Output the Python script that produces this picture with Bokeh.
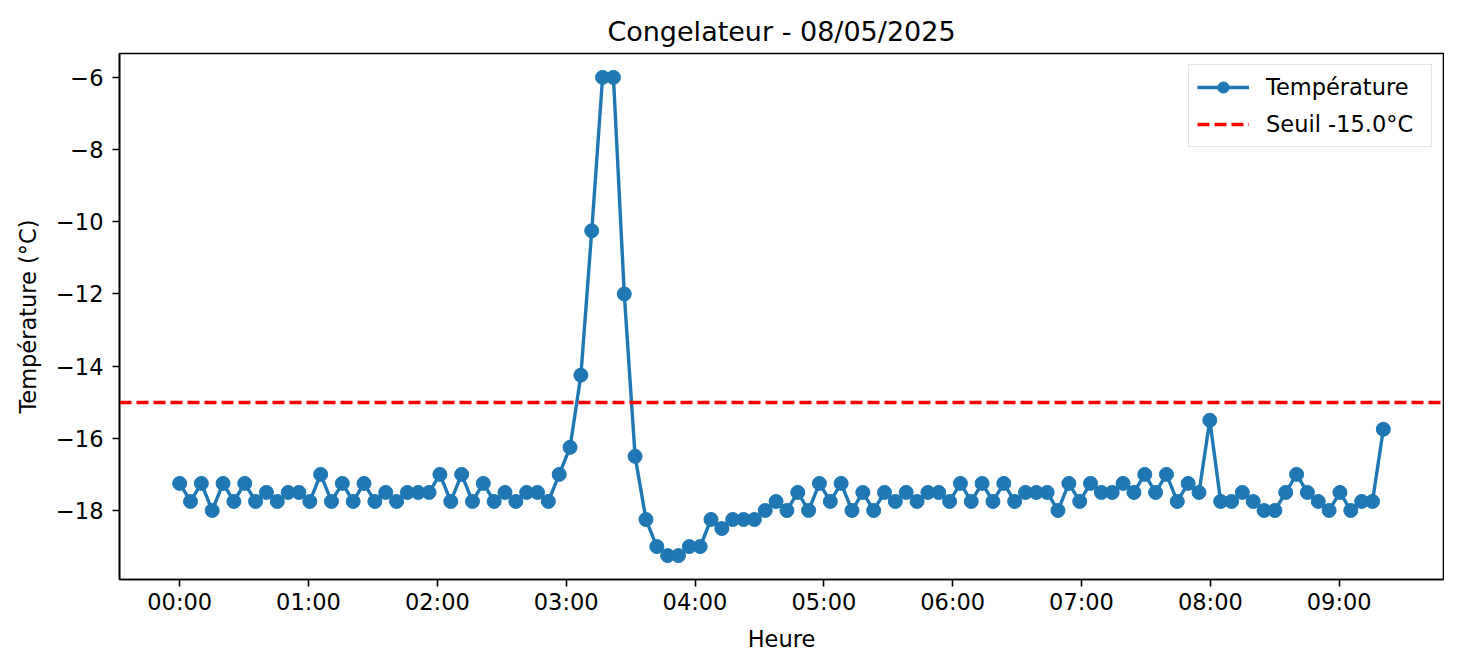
import pandas as pd
from bokeh.plotting import figure
from bokeh.models import (ColumnDataSource, Range1d, FixedTicker, DatetimeTickFormatter,
                          CustomJSTickFormatter, Legend, LegendItem)
from bokeh.embed import file_html
from bokeh.resources import INLINE

# ---------------- data ----------------
titre = "Congelateur - 08/05/2025"
date = "2025-05-08"

heures = [
    "00:00:00", "00:05:03", "00:10:06", "00:15:09", "00:20:12", "00:25:15", "00:30:18", "00:35:21",
    "00:40:24", "00:45:27", "00:50:30", "00:55:33", "01:00:36", "01:05:39", "01:10:42", "01:15:45",
    "01:20:48", "01:25:51", "01:30:54", "01:35:57", "01:41:00", "01:46:03", "01:51:06", "01:56:09",
    "02:01:12", "02:06:15", "02:11:18", "02:16:21", "02:21:24", "02:26:27", "02:31:30", "02:36:33",
    "02:41:36", "02:46:39", "02:51:42", "02:56:45", "03:01:48", "03:06:51", "03:11:54", "03:16:57",
    "03:22:00", "03:27:03", "03:32:06", "03:37:09", "03:42:12", "03:47:15", "03:52:18", "03:57:21",
    "04:02:24", "04:07:27", "04:12:30", "04:17:33", "04:22:36", "04:27:39", "04:32:42", "04:37:45",
    "04:42:48", "04:47:51", "04:52:54", "04:57:57", "05:03:00", "05:08:03", "05:13:06", "05:18:09",
    "05:23:12", "05:28:15", "05:33:18", "05:38:21", "05:43:24", "05:48:27", "05:53:30", "05:58:33",
    "06:03:36", "06:08:39", "06:13:42", "06:18:45", "06:23:48", "06:28:51", "06:33:54", "06:38:57",
    "06:44:00", "06:49:03", "06:54:06", "06:59:09", "07:04:12", "07:09:15", "07:14:18", "07:19:21",
    "07:24:24", "07:29:27", "07:34:30", "07:39:33", "07:44:36", "07:49:39", "07:54:42", "07:59:45",
    "08:04:48", "08:09:51", "08:14:54", "08:19:57", "08:25:00", "08:30:03", "08:35:06", "08:40:09",
    "08:45:12", "08:50:15", "08:55:18", "09:00:21", "09:05:24", "09:10:27", "09:15:30", "09:20:33",
]

temperatures = [
    -17.25, -17.75, -17.25, -18.0, -17.25, -17.75, -17.25, -17.75,
    -17.5, -17.75, -17.5, -17.5, -17.75, -17.0, -17.75, -17.25,
    -17.75, -17.25, -17.75, -17.5, -17.75, -17.5, -17.5, -17.5,
    -17.0, -17.75, -17.0, -17.75, -17.25, -17.75, -17.5, -17.75,
    -17.5, -17.5, -17.75, -17.0, -16.25, -14.25, -10.25, -6.0,
    -6.0, -12.0, -16.5, -18.25, -19.0, -19.25, -19.25, -19.0,
    -19.0, -18.25, -18.5, -18.25, -18.25, -18.25, -18.0, -17.75,
    -18.0, -17.5, -18.0, -17.25, -17.75, -17.25, -18.0, -17.5,
    -18.0, -17.5, -17.75, -17.5, -17.75, -17.5, -17.5, -17.75,
    -17.25, -17.75, -17.25, -17.75, -17.25, -17.75, -17.5, -17.5,
    -17.5, -18.0, -17.25, -17.75, -17.25, -17.5, -17.5, -17.25,
    -17.5, -17.0, -17.5, -17.0, -17.75, -17.25, -17.5, -15.5,
    -17.75, -17.75, -17.5, -17.75, -18.0, -18.0, -17.5, -17.0,
    -17.5, -17.75, -18.0, -17.5, -18.0, -17.75, -17.75, -15.75,
]

seuil = -15.0
x_tick_labels = ["00:00", "01:00", "02:00", "03:00", "04:00",
                 "05:00", "06:00", "07:00", "08:00", "09:00"]
y_ticks = [-18, -16, -14, -12, -10, -8, -6]

# ---------------- build ----------------
t = pd.to_datetime([f"{date} {h}" for h in heures])
src = ColumnDataSource(dict(t=t, temp=temperatures))

span_t = t[-1] - t[0]
x_start = t[0] - 0.05 * span_t
x_end = t[-1] + 0.05 * span_t
y_lo, y_hi = min(temperatures), max(temperatures)
y_pad = 0.05 * (y_hi - y_lo)

FONT = "DejaVu Sans"
BLUE = "#1f77b4"

p = figure(width=1444, height=655, output_backend="svg", toolbar_location=None,
           x_axis_type="datetime",
           x_range=Range1d(x_start, x_end), y_range=Range1d(y_lo - y_pad, y_hi + y_pad),
           min_border_left=119, min_border_right=1, min_border_top=53, min_border_bottom=76)

p.title.text = titre
p.title.align = "center"
p.title.text_font = FONT
p.title.text_font_size = "27px"
p.title.text_font_style = "normal"
p.title.text_color = "black"
p.title.standoff = 13

p.grid.visible = False
p.outline_line_color = "black"
p.outline_line_width = 1.6
p.outline_line_alpha = 1.0

line_r = p.line("t", "temp", source=src, line_color=BLUE, line_width=3.4)
scat_r = p.scatter("t", "temp", source=src, size=14, fill_color=BLUE, line_color=BLUE)
seuil_r = p.hspan(y=[seuil], line_color="red", line_width=3.4, line_dash="12 5")

tick_ms = [pd.Timestamp(f"{date} {lab}").value / 1e6 for lab in x_tick_labels]
p.xaxis.ticker = FixedTicker(ticks=tick_ms)
fmt = "%H:%M"
p.xaxis.formatter = DatetimeTickFormatter(seconds=fmt, minsec=fmt, minutes=fmt, hourmin=fmt,
                                          hours=fmt, days=fmt, months=fmt, years=fmt)
p.yaxis.ticker = FixedTicker(ticks=y_ticks)
p.yaxis.formatter = CustomJSTickFormatter(code="return tick < 0 ? '\u2212' + Math.abs(tick) : '' + tick;")

for ax in (p.xaxis[0], p.yaxis[0]):
    ax.axis_line_color = "black"
    ax.axis_line_width = 1.6
    ax.major_tick_line_color = "black"
    ax.major_tick_line_width = 1.6
    ax.major_tick_out = 7
    ax.major_tick_in = 0
    ax.minor_tick_out = 0
    ax.minor_tick_in = 0
    ax.major_label_text_font = FONT
    ax.major_label_text_font_size = "22.5px"
    ax.major_label_text_color = "black"
    ax.axis_label_text_font = FONT
    ax.axis_label_text_font_size = "22.5px"
    ax.axis_label_text_font_style = "normal"
    ax.axis_label_text_color = "black"

p.xaxis.axis_label = "Heure"
p.yaxis.axis_label = "Température (°C)"
p.xaxis.major_label_standoff = 2
p.yaxis.major_label_standoff = 9
p.xaxis.axis_label_standoff = 8
p.yaxis.axis_label_standoff = 12

legend = Legend(items=[LegendItem(label="Température", renderers=[line_r, scat_r]),
                       LegendItem(label=f"Seuil {seuil}°C", renderers=[seuil_r])],
                location="top_right")
legend.margin = 11
legend.padding = 8
legend.spacing = 9
legend.glyph_width = 52
legend.glyph_height = 28
legend.label_height = 28
legend.label_width = 157
legend.label_standoff = 17
legend.label_text_font = FONT
legend.label_text_font_size = "22.5px"
legend.label_text_color = "black"
legend.border_line_color = "#cccccc"
legend.border_line_width = 1.5
legend.background_fill_alpha = 0.8
p.add_layout(legend)

open("out.html", "w").write(file_html(p, INLINE))
